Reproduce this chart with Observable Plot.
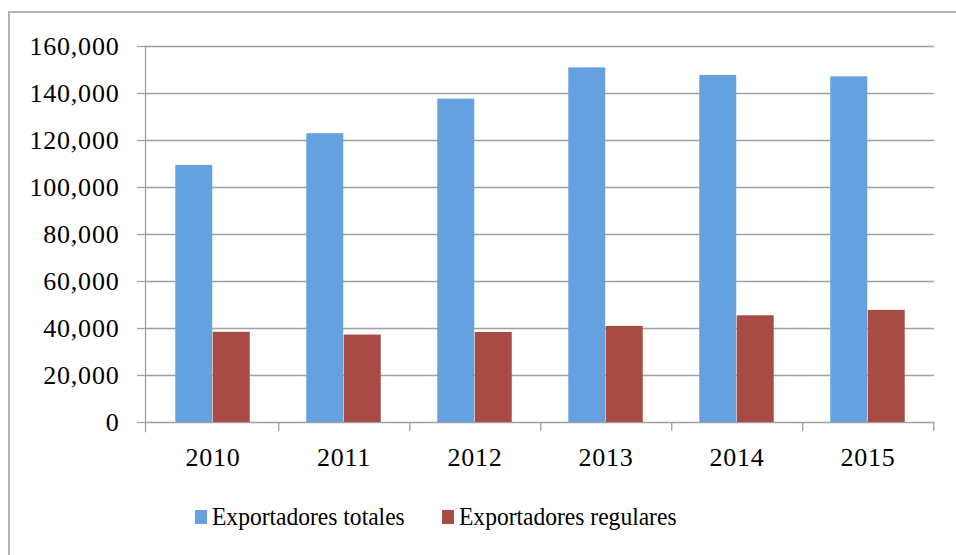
<!DOCTYPE html>
<html>
<head>
<meta charset="utf-8">
<script src="https://cdn.jsdelivr.net/npm/d3@7"></script>
<script src="https://cdn.jsdelivr.net/npm/@observablehq/plot@0.6"></script>
<style>
  html, body { margin: 0; padding: 0; background: #fff; }
  #wrap { position: relative; width: 956px; height: 555px; overflow: hidden; font-family: "Liberation Serif", serif; }
  #border { position: absolute; left: 8px; top: 11px; width: 1000px; height: 600px; border-left: 2px solid #b4b4b4; border-top: 2px solid #b4b4b4; box-sizing: border-box; }
  #chart { position: absolute; left: 0; top: 0; }
  #legend { position: absolute; left: 0; top: 503px; width: 956px; height: 28px; font-size: 26px; color: #000; }
  .item { display: flex; align-items: center; position: absolute; top: 0; height: 28px; }
  .sw { width: 12px; height: 14px; margin-right: 5px; flex: none; }
  .lbl { display: inline-block; transform: scaleX(0.905); transform-origin: left center; white-space: nowrap; }
  g[aria-label="y-axis tick label"] text, g[aria-label="x-axis tick label"] text { letter-spacing: 0.8px; }
</style>
</head>
<body>
<div id="wrap">
  <div id="border"></div>
  <div id="chart"></div>
  <div id="legend"></div>
</div>
<script>
const years = ["2010", "2011", "2012", "2013", "2014", "2015"];
const seriesNames = ["Exportadores totales", "Exportadores regulares"];
const totales = [109400, 122900, 137600, 150900, 147700, 147100];
const regulares = [38400, 37200, 38300, 40900, 45400, 47700];
const yTicks = [0, 20000, 40000, 60000, 80000, 100000, 120000, 140000, 160000];
const colors = ["#65a1de", "#a74b44"];

const dataTot = years.map((yr, i) => ({year: yr, series: seriesNames[0], value: totales[i]}));
const dataReg = years.map((yr, i) => ({year: yr, series: seriesNames[1], value: regulares[i]}));

const W = 956, H = 480, ML = 145, MR = 22, MT = 46, MB = 58;
const step = (W - ML - MR) / years.length;
const outer = 0.215 * step; // gap between bar group and category edge
const grid = "#a0a0a0";
const fmt = d3.format(",");

const chart = Plot.plot({
  width: W, height: H,
  marginLeft: ML, marginRight: MR, marginTop: MT, marginBottom: MB,
  style: {fontFamily: "Liberation Serif, serif", fontSize: "26px", color: "#000", background: "transparent", overflow: "visible"},
  x: {domain: years, padding: 0, label: null},
  y: {domain: [0, 160000], label: null},
  color: {domain: seriesNames, range: colors},
  marks: [
    Plot.gridY(yTicks, {stroke: grid, strokeOpacity: 1, strokeWidth: 1.3}),
    Plot.axisY(yTicks, {tickSize: 8, tickPadding: 18, tickFormat: fmt, stroke: grid, strokeWidth: 1.3, fontSize: 26, fill: "#000", label: null}),
    Plot.frame({anchor: "left", stroke: grid, strokeWidth: 1.3, insetBottom: -9}),
    Plot.barY(dataTot, {x: "year", y: "value", fill: "series", insetLeft: outer, insetRight: step / 2}),
    Plot.barY(dataReg, {x: "year", y: "value", fill: "series", insetLeft: step / 2, insetRight: outer}),
    Plot.axisX({tickSize: 9, dx: step / 2, tickFormat: () => "", stroke: grid, strokeWidth: 1.3, label: null}),
    Plot.axisX({tickSize: 0, tickPadding: 25, fontSize: 26, label: null, fill: "#000"})
  ]
});
document.getElementById("chart").appendChild(chart);

const legend = document.getElementById("legend");
const lefts = [195, 442];
seriesNames.forEach((s, i) => {
  const it = document.createElement("div");
  it.className = "item";
  it.style.left = lefts[i] + "px";
  const sw = document.createElement("span");
  sw.className = "sw";
  sw.style.background = colors[i];
  const t = document.createElement("span");
  t.className = "lbl";
  t.textContent = s;
  it.appendChild(sw);
  it.appendChild(t);
  legend.appendChild(it);
});
</script>
</body>
</html>
